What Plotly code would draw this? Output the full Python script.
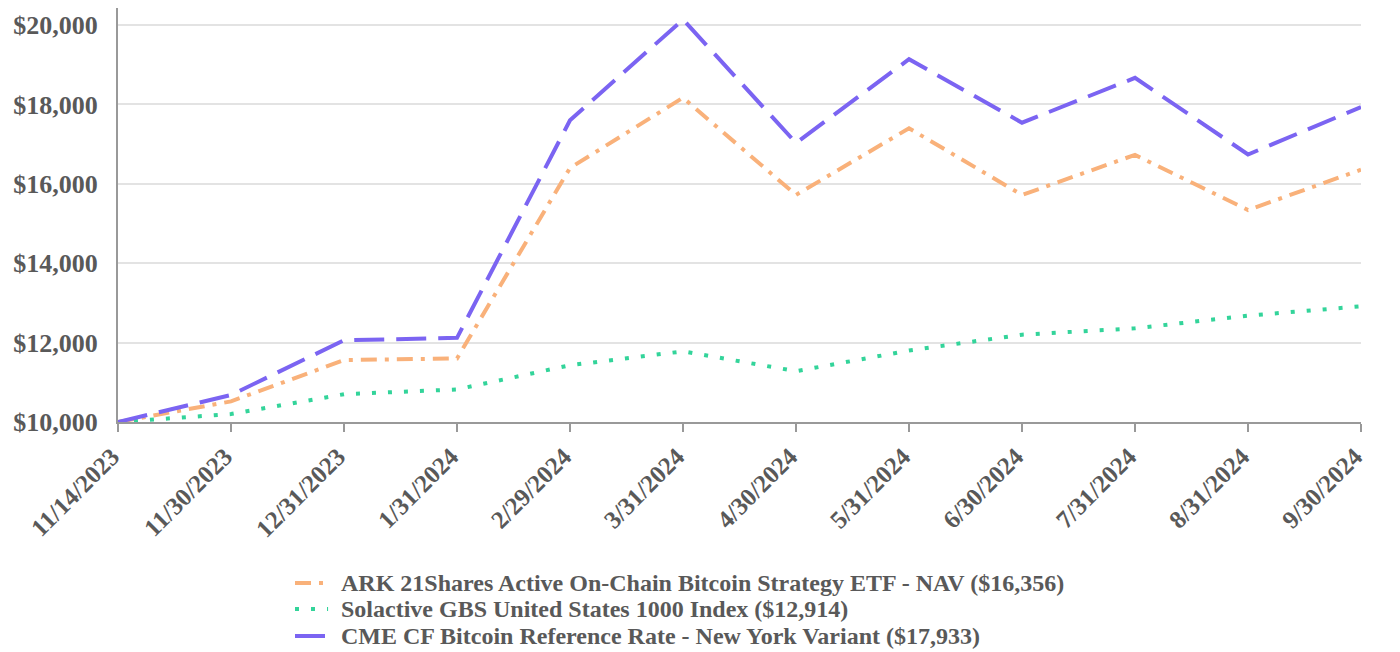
import plotly.graph_objects as go

dates = ["11/14/2023", "11/30/2023", "12/31/2023", "1/31/2024", "2/29/2024", "3/31/2024",
         "4/30/2024", "5/31/2024", "6/30/2024", "7/31/2024", "8/31/2024", "9/30/2024"]

ark = [10000, 10520, 11560, 11600, 16400, 18170, 15720, 17400, 15720, 16730, 15340, 16356]
solactive = [10000, 10200, 10700, 10820, 11430, 11780, 11280, 11800, 12200, 12360, 12680, 12914]
cme = [10000, 10680, 12060, 12120, 17600, 20140, 17030, 19140, 17540, 18670, 16740, 17933]

names = ["ARK 21Shares Active On-Chain Bitcoin Strategy ETF - NAV ($16,356)",
         "Solactive GBS United States 1000 Index ($12,914)",
         "CME CF Bitcoin Reference Rate - New York Variant ($17,933)"]
colors = ["#F9B17A", "#33D49A", "#7B64F2"]
dashes = ["16px,8px,4px,8px", "4px,12px", "30px,12px"]
series = [ark, solactive, cme]

y_ticks = [10000, 12000, 14000, 16000, 18000, 20000]
y_tick_text = ["$10,000", "$12,000", "$14,000", "$16,000", "$18,000", "$20,000"]

FONT = "Liberation Serif"
GRAY = "#595959"

fig = go.Figure()
for name, vals, col, dsh in zip(names, series, colors, dashes):
    fig.add_trace(go.Scatter(x=dates, y=vals, name=name, mode="lines",
                             line=dict(color=col, width=4, dash=dsh)))

# legend drawn below the plot (tight line spacing like the reference)
leg_y = [-0.389, -0.4517, -0.5169]
for name, col, dsh, yy in zip(names, colors, dashes, leg_y):
    fig.add_shape(type="line", xref="paper", yref="paper",
                  x0=0.1424, x1=0.1690, y0=yy, y1=yy,
                  line=dict(color=col, width=4, dash=dsh))
    fig.add_annotation(xref="paper", yref="paper", x=0.1778, y=yy,
                       xanchor="left", yanchor="middle", showarrow=False,
                       text=name,
                       font=dict(family=FONT, size=24, color=GRAY, weight="bold"))

fig.update_layout(
    width=1400, height=652,
    margin=dict(l=110, r=47, t=0, b=238, autoexpand=False),
    plot_bgcolor="white", paper_bgcolor="white",
    font=dict(family=FONT, color=GRAY, size=24, weight="bold"),
    showlegend=False,
)

fig.update_xaxes(
    type="category", range=[0, 11],
    tickangle=-45, tickfont=dict(family=FONT, size=25, color=GRAY, weight="bold"),
    showline=True, linecolor="#999999", linewidth=2,
    ticks="outside", ticklen=8, tickcolor="#999999", tickwidth=2,
    ticklabelshift=-6,
    showgrid=False, zeroline=False,
)
fig.update_yaxes(
    range=[10000, 20430], tickvals=y_ticks, ticktext=y_tick_text,
    tickfont=dict(family=FONT, size=26, color=GRAY, weight="bold"),
    showline=True, linecolor="#999999", linewidth=2,
    showgrid=True, gridcolor="#E3E3E3", gridwidth=1.5,
    zeroline=False, ticks="", ticklabelstandoff=13,
)

fig.write_html("out.html")
